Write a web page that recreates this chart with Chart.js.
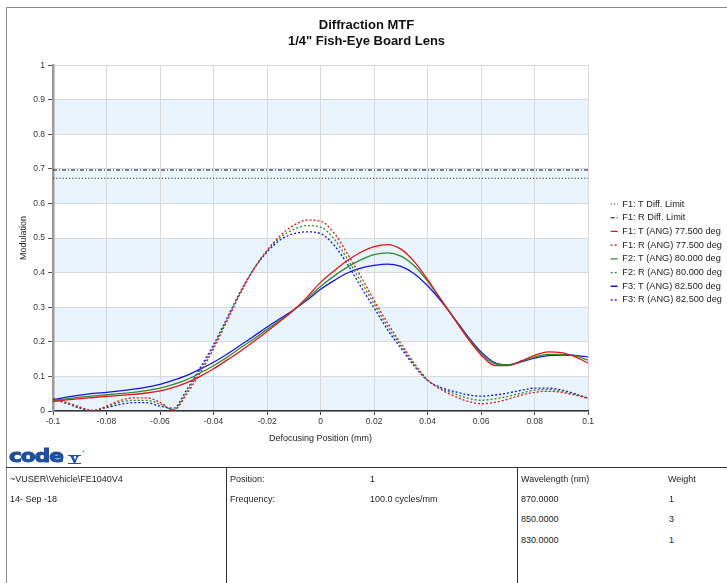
<!DOCTYPE html>
<html>
<head>
<meta charset="utf-8">
<script src="https://cdn.jsdelivr.net/npm/chart.js@4.4.1/dist/chart.umd.min.js"></script>
<style>
  html, body { margin: 0; padding: 0; background: #fff; overflow: hidden; }
  body { width: 727px; height: 583px; position: relative; font-family: "Liberation Sans", Arial, sans-serif; color: #222; }
  #frame { position: absolute; left: 6px; top: 7px; width: 740px; height: 600px;
           border-left: 1px solid #8c8c8c; border-top: 1px solid #8c8c8c; }
  #chartBox { position: absolute; left: 7px; top: 8px; }
  #logo { position: absolute; left: 9px; top: 447px; line-height: 18px; height: 18px; color: #1f4f9e; white-space: nowrap; }
  #logo .c { display: inline-block; font-family: "DejaVu Sans", sans-serif; font-weight: bold; font-size: 18px;
             letter-spacing: -0.8px; -webkit-text-stroke: 1.1px #1f4f9e; transform: scaleX(1.2); transform-origin: left center; }
  #logo .v { position: absolute; left: 59px; top: 8px; width: 13px; height: 7px; line-height: 7px; text-align: center;
             font-family: "Liberation Serif", serif; font-weight: bold; font-size: 11px;
             -webkit-text-stroke: 0.7px #1f4f9e; border-top: 1.3px solid #1f4f9e; border-bottom: 1.3px solid #1f4f9e; }
  #logo .r { position: absolute; left: 73px; top: -4px; font-size: 4px; }
  .hline { position: absolute; left: 6px; top: 467px; width: 730px; border-top: 1px solid #333; }
  .vline { position: absolute; top: 467px; height: 120px; border-left: 1px solid #333; }
  .cell { position: absolute; font-size: 9px; white-space: nowrap; line-height: 11px; }
</style>
</head>
<body>
<div id="frame"></div>
<div id="chartBox"><canvas id="mtf" width="727" height="440"></canvas></div>

<div id="logo"><span class="c">code</span><span class="v">V</span><span class="r">®</span></div>

<div class="hline"></div>
<div class="vline" style="left:226px"></div>
<div class="vline" style="left:517px"></div>

<div class="cell" style="left:10px; top:474px">~VUSER\Vehicle\FE1040V4</div>
<div class="cell" style="left:10px; top:494px">14- Sep -18</div>

<div class="cell" style="left:230px; top:474px">Position:</div>
<div class="cell" style="left:370px; top:474px">1</div>
<div class="cell" style="left:230px; top:494px">Frequency:</div>
<div class="cell" style="left:370px; top:494px">100.0 cycles/mm</div>

<div class="cell" style="left:521px; top:474px">Wavelength (nm)</div>
<div class="cell" style="left:668px; top:474px">Weight</div>
<div class="cell" style="left:521px; top:494px">870.0000</div>
<div class="cell" style="left:669px; top:494px">1</div>
<div class="cell" style="left:521px; top:514px">850.0000</div>
<div class="cell" style="left:669px; top:514px">3</div>
<div class="cell" style="left:521px; top:535px">830.0000</div>
<div class="cell" style="left:669px; top:535px">1</div>

<script>
// Defocus positions (mm) at which the through-focus MTF was sampled
const defocus = [
  -0.100, -0.095, -0.090, -0.085, -0.080, -0.075, -0.070, -0.065, -0.060, -0.055,
  -0.050, -0.045, -0.040, -0.035, -0.030, -0.025, -0.020, -0.015, -0.010, -0.005,
   0.000,  0.005,  0.010,  0.015,  0.020,  0.025,  0.030,  0.035,  0.040,  0.045,
   0.050,  0.055,  0.060,  0.065,  0.070,  0.075,  0.080,  0.085,  0.090,  0.095,
   0.100
];

// Field F1 (77.5 deg)
const f1Tan = [
  0.027, 0.032, 0.036, 0.039, 0.042, 0.045, 0.048, 0.052, 0.058, 0.068,
  0.082, 0.100, 0.122, 0.147, 0.173, 0.201, 0.230, 0.260, 0.292, 0.330,
  0.372, 0.405, 0.435, 0.459, 0.475, 0.481, 0.468, 0.432, 0.380, 0.322,
  0.266, 0.210, 0.162, 0.132, 0.131, 0.145, 0.161, 0.171, 0.169, 0.157,
  0.138
];
const f1Rad = [
  0.036, 0.025, 0.012, 0.000, 0.014, 0.030, 0.038, 0.038, 0.025, 0.002,
  0.050, 0.110, 0.180, 0.260, 0.340, 0.410, 0.465, 0.508, 0.537, 0.552,
  0.549, 0.515, 0.455, 0.390, 0.320, 0.255, 0.195, 0.138, 0.090, 0.062,
  0.043, 0.028, 0.021, 0.025, 0.034, 0.046, 0.054, 0.057, 0.054, 0.046,
  0.036
];

// Field F2 (80.0 deg)
const f2Tan = [
  0.030, 0.035, 0.040, 0.044, 0.047, 0.050, 0.054, 0.059, 0.066, 0.077,
  0.091, 0.110, 0.131, 0.155, 0.182, 0.208, 0.236, 0.263, 0.292, 0.325,
  0.360, 0.390, 0.416, 0.437, 0.452, 0.457, 0.448, 0.420, 0.375, 0.322,
  0.267, 0.213, 0.166, 0.137, 0.134, 0.144, 0.156, 0.164, 0.164, 0.160,
  0.147
];
const f2Rad = [
  0.036, 0.023, 0.010, 0.001, 0.012, 0.025, 0.031, 0.031, 0.020, 0.004,
  0.056, 0.118, 0.186, 0.264, 0.342, 0.410, 0.463, 0.502, 0.525, 0.536,
  0.532, 0.498, 0.440, 0.375, 0.310, 0.245, 0.189, 0.134, 0.089, 0.065,
  0.050, 0.037, 0.031, 0.035, 0.042, 0.052, 0.060, 0.062, 0.058, 0.048,
  0.037
];

// Field F3 (82.5 deg)
const f3Tan = [
  0.033, 0.040, 0.046, 0.051, 0.054, 0.058, 0.063, 0.069, 0.077, 0.089,
  0.103, 0.121, 0.141, 0.164, 0.190, 0.216, 0.243, 0.268, 0.293, 0.321,
  0.352, 0.377, 0.399, 0.413, 0.421, 0.425, 0.418, 0.397, 0.362, 0.318,
  0.268, 0.216, 0.171, 0.140, 0.133, 0.142, 0.153, 0.160, 0.162, 0.161,
  0.156
];
const f3Rad = [
  0.036, 0.022, 0.008, 0.002, 0.010, 0.019, 0.024, 0.024, 0.014, 0.008,
  0.062, 0.125, 0.192, 0.268, 0.345, 0.410, 0.460, 0.495, 0.513, 0.518,
  0.513, 0.480, 0.425, 0.360, 0.298, 0.235, 0.182, 0.130, 0.088, 0.068,
  0.056, 0.047, 0.043, 0.046, 0.052, 0.060, 0.066, 0.066, 0.061, 0.050,
  0.037
];

// Diffraction limits for F1 (flat across the defocus range)
const diffLimitEnds = [-0.1, 0.1];
const f1TanLimit = [0.673, 0.673];
const f1RadLimit = [0.697, 0.697];

const seriesNames = [
  'F1: T Diff. Limit', 'F1: R Diff. Limit',
  'F1: T (ANG) 77.500 deg', 'F1: R (ANG) 77.500 deg',
  'F2: T (ANG) 80.000 deg', 'F2: R (ANG) 80.000 deg',
  'F3: T (ANG) 82.500 deg', 'F3: R (ANG) 82.500 deg'
];

const pairs = (xs, ys) => xs.map((x, i) => ({ x, y: ys[i] }));

const RED = '#e8141c', GREEN = '#2e8b2e', BLUE = '#1414e6';
const DOT = [2, 2];

function curve(label, xs, ys, color, dash, width) {
  return {
    label, data: pairs(xs, ys),
    borderColor: color, backgroundColor: color,
    borderWidth: width || 1.3, borderDash: dash || [],
    pointRadius: 0, pointHoverRadius: 0,
    cubicInterpolationMode: 'monotone', fill: false
  };
}

const datasets = [
  curve(seriesNames[0], diffLimitEnds, f1TanLimit, '#333333', [1.2, 2], 1.1),
  curve(seriesNames[1], diffLimitEnds, f1RadLimit, '#111111', [4, 2, 1, 2], 1.1),
  curve(seriesNames[2], defocus, f1Tan, RED),
  curve(seriesNames[3], defocus, f1Rad, RED, DOT),
  curve(seriesNames[4], defocus, f2Tan, GREEN),
  curve(seriesNames[5], defocus, f2Rad, GREEN, DOT),
  curve(seriesNames[6], defocus, f3Tan, BLUE),
  curve(seriesNames[7], defocus, f3Rad, BLUE, DOT)
];

// Alternating light-blue bands behind the plot
const bandsPlugin = {
  id: 'bands',
  beforeDraw(chart, args, opts) {
    const { ctx, chartArea: { left, right }, scales: { y } } = chart;
    ctx.save();
    ctx.fillStyle = opts.color;
    for (const [lo, hi] of opts.ranges) {
      const top = y.getPixelForValue(hi), bottom = y.getPixelForValue(lo);
      ctx.fillRect(left, top, right - left, bottom - top);
    }
    ctx.restore();
  }
};

// Lower the legend block so it sits beside the middle of the curves
const legendOffset = {
  id: 'legendOffset',
  afterLayout(chart, args, opts) {
    const lg = chart.legend;
    if (lg) { lg.top += opts.dy; lg.bottom += opts.dy; }
  }
};

// Legend samples use the line style (dash pattern) of each series
function legendItems(chart) {
  const items = Chart.defaults.plugins.legend.labels.generateLabels(chart);
  items.forEach(it => {
    const ds = chart.data.datasets[it.datasetIndex];
    it.lineDash = ds.borderDash;
    it.lineWidth = ds.borderWidth;
    it.strokeStyle = ds.borderColor;
  });
  return items;
}

const fmt = v => String(Number(Number(v).toFixed(2)));

new Chart(document.getElementById('mtf'), {
  type: 'line',
  data: { datasets },
  plugins: [bandsPlugin, legendOffset],
  options: {
    responsive: false,
    animation: false,
    events: [],
    layout: { padding: { left: 0, right: 8, top: 0, bottom: 2 } },
    font: { family: '"Liberation Sans", Arial, sans-serif' },
    plugins: {
      bands: { color: '#eaf4fc', ranges: [[0, 0.1], [0.2, 0.3], [0.4, 0.5], [0.6, 0.7], [0.8, 0.9]] },
      legendOffset: { dy: 25 },
      title: {
        display: true,
        text: ['Diffraction MTF', '1/4" Fish-Eye Board Lens'],
        color: '#111',
        font: { size: 13, weight: 'bold', lineHeight: 1.2 },
        padding: { top: 10, bottom: 16 }
      },
      legend: {
        position: 'right',
        align: 'center',
        labels: {
          usePointStyle: true,
          pointStyle: 'line',
          pointStyleWidth: 7,
          padding: 4.5,
          color: '#222',
          font: { size: 9.2 },
          generateLabels: legendItems
        }
      },
      tooltip: { enabled: false }
    },
    scales: {
      x: {
        type: 'linear', min: -0.1, max: 0.1,
        ticks: { stepSize: 0.02, callback: fmt, color: '#333', font: { size: 8.5 }, padding: 2, maxRotation: 0 },
        grid: { color: '#d9d9d9', lineWidth: 1, tickLength: 4, tickColor: '#444' },
        border: { color: '#333', width: 1.5 },
        title: { display: true, text: 'Defocusing Position (mm)', color: '#222', font: { size: 9 }, padding: { top: 4, bottom: 2 } }
      },
      y: {
        min: 0, max: 1,
        ticks: { stepSize: 0.1, callback: fmt, color: '#333', font: { size: 8.5 }, padding: 3 },
        grid: { color: '#d9d9d9', lineWidth: 1, tickLength: 5, tickColor: '#555' },
        border: { color: '#9a9a9a', width: 2.5 },
        title: { display: true, text: 'Modulation', color: '#222', font: { size: 9 }, padding: { top: 11, bottom: 0 } },
        afterFit: s => { s.width = 46; }
      },
      gap: {
        position: 'right', display: true, min: 0, max: 1,
        ticks: { display: false }, grid: { display: false, drawTicks: false }, border: { display: false },
        afterFit: s => { s.width = 18; }
      }
    }
  }
});
</script>
</body>
</html>
